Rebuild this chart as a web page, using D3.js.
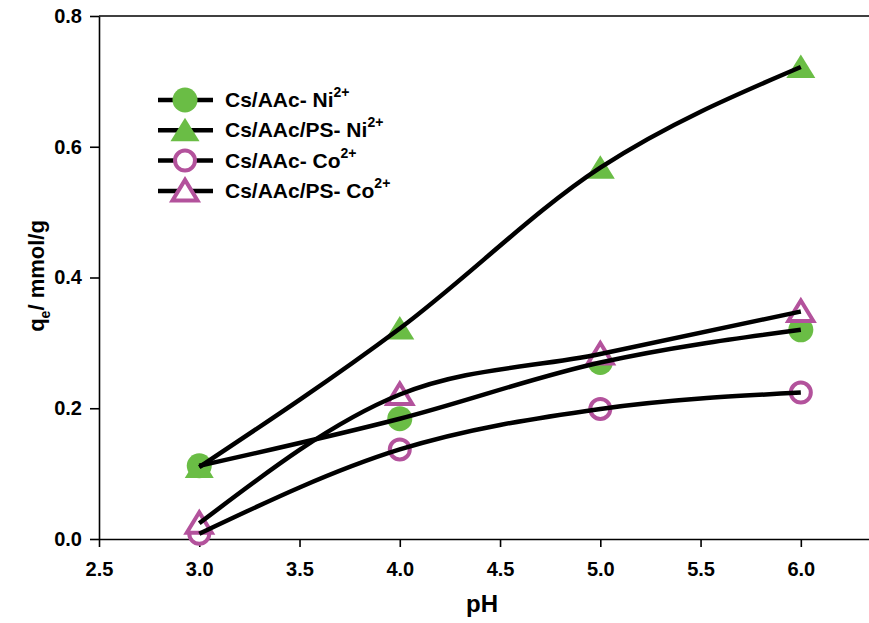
<!DOCTYPE html>
<html>
<head>
<meta charset="utf-8">
<script src="https://d3js.org/d3.v7.min.js"></script>
<style>
  body { margin: 0; background: #fff; }
  text { font-family: "Liberation Sans", Arial, sans-serif; font-weight: bold; }
</style>
</head>
<body>
<script>
// data
const pH = [3.0, 4.0, 5.0, 6.0];
const niAAc   = [0.112, 0.184, 0.270, 0.320];
const niPS    = [0.110, 0.322, 0.568, 0.722];
const coAAc   = [0.008, 0.137, 0.199, 0.224];
const coPS    = [0.024, 0.221, 0.283, 0.348];
const xTicks = [2.5, 3.0, 3.5, 4.0, 4.5, 5.0, 5.5, 6.0];
const yTicks = [0.0, 0.2, 0.4, 0.6, 0.8];

const green = "#6abd45", pink = "#b3529c";

const series = [
  {name: "Cs/AAc- Ni", vals: niAAc, shape: "circle", open: false, col: green},
  {name: "Cs/AAc/PS- Ni", vals: niPS, shape: "triangle", open: false, col: green},
  {name: "Cs/AAc- Co", vals: coAAc, shape: "circle", open: true, col: pink},
  {name: "Cs/AAc/PS- Co", vals: coPS, shape: "triangle", open: true, col: pink}
];

let width = 869, height = 623;
let svg = d3.select("body").append("svg")
  .attr("width", width).attr("height", height);

let x = d3.scaleLinear().domain([2.5, 6.34]).range([99, 869]);
let y = d3.scaleLinear().domain([0, 0.8]).range([539, 16]);

// axes
let xAxis = svg.append("g").attr("transform", "translate(0,539)")
  .call(d3.axisBottom(x).tickValues(xTicks).tickFormat(d3.format(".1f"))
    .tickSizeInner(8).tickSizeOuter(0).tickPadding(15));
let yAxis = svg.append("g").attr("transform", "translate(99,0)")
  .call(d3.axisLeft(y).tickValues(yTicks).tickFormat(d3.format(".1f"))
    .tickSizeInner(9).tickSizeOuter(0).tickPadding(8));
[xAxis, yAxis].forEach(a => {
  a.selectAll("path, line").attr("stroke", "#000").attr("stroke-width", 1.6);
  a.selectAll("text").attr("font-size", "20px").attr("fill", "#000")
    .style("font-weight", "bold");
});
// top frame line
svg.append("line").attr("x1", 99).attr("x2", 869).attr("y1", 16).attr("y2", 16)
  .attr("stroke", "#000").attr("stroke-width", 1.6);

// titles
svg.append("text").attr("x", 482).attr("y", 612).attr("text-anchor", "middle")
  .attr("font-size", "24px").text("pH");
let yt = svg.append("text").attr("transform", "translate(44,276) rotate(-90)")
  .attr("text-anchor", "middle").attr("font-size", "22px");
yt.append("tspan").text("q");
yt.append("tspan").attr("font-size", "14px").attr("dy", 6).text("e");
yt.append("tspan").attr("dy", -6).text("/ mmol/g");

function drawMarker(g, s, cx, cy) {
  if (s.shape === "circle") {
    g.append("circle").attr("cx", cx).attr("cy", cy)
      .attr("r", s.open ? 10 : 12.5)
      .attr("fill", s.open ? "#fff" : s.col)
      .attr("stroke", s.open ? s.col : "none")
      .attr("stroke-width", 4);
  } else {
    let pts = s.open
      ? [[cx, cy - 11], [cx + 12.5, cy + 9.5], [cx - 12.5, cy + 9.5]]
      : [[cx, cy - 12.5], [cx + 14.5, cy + 11], [cx - 14.5, cy + 11]];
    g.append("polygon").attr("points", pts.map(p => p.join(",")).join(" "))
      .attr("fill", s.open ? "#fff" : s.col)
      .attr("stroke", s.open ? s.col : "none")
      .attr("stroke-width", 4).attr("stroke-linejoin", "miter");
  }
}

let line = d3.line().x(d => x(d[0])).y(d => y(d[1])).curve(d3.curveMonotoneX);

// markers under the lines, like the original
let mk = svg.append("g");
series.forEach(s => {
  pH.forEach((p, i) => drawMarker(mk, s, x(p), y(s.vals[i])));
});
series.forEach(s => {
  svg.append("path").datum(pH.map((p, i) => [p, s.vals[i]]))
    .attr("d", line).attr("fill", "none")
    .attr("stroke", "#000").attr("stroke-width", 4.5);
});

// legend
let lg = svg.append("g");
series.forEach((s, i) => {
  let ly = 100 + i * 30.3;
  lg.append("line").attr("x1", 158).attr("x2", 213).attr("y1", ly).attr("y2", ly)
    .attr("stroke", "#000").attr("stroke-width", 4.5);
  drawMarker(lg, s, 185, ly);
  let t = lg.append("text").attr("x", 225).attr("y", ly + 7).attr("font-size", "21px");
  t.append("tspan").text(s.name);
  t.append("tspan").attr("dy", -10).attr("font-size", "14px").text("2+");
});
</script>
</body>
</html>
